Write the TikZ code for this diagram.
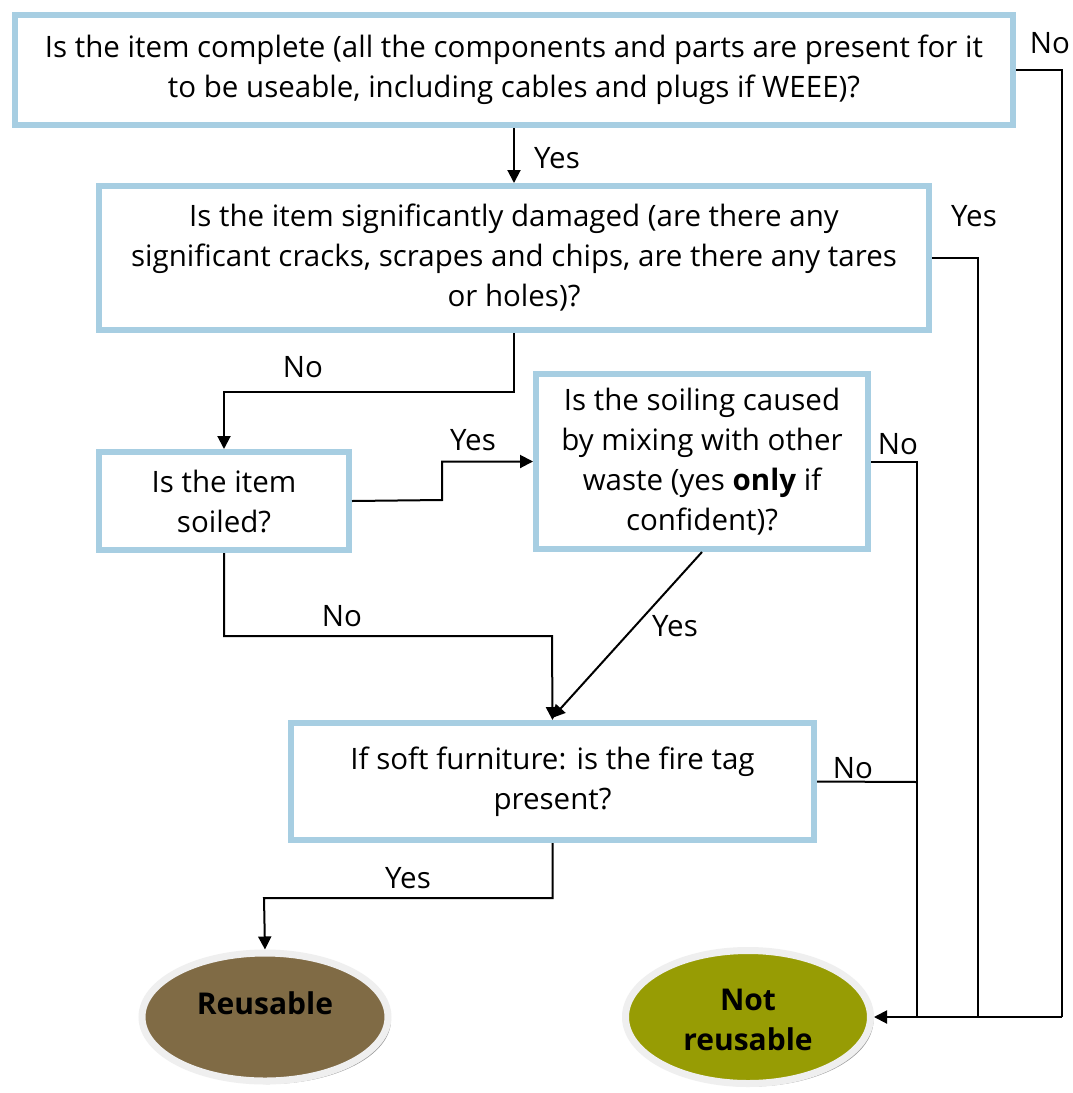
\documentclass[tikz,border=0pt]{standalone}
\usepackage{fontspec}
\setmainfont{Open Sans}
\usetikzlibrary{arrows.meta,shapes.geometric,shadows}
\definecolor{boxblue}{HTML}{A7CEE2}
\definecolor{brownfill}{HTML}{806B45}
\definecolor{olivefill}{HTML}{979C04}
\definecolor{ringcol}{HTML}{EFEFEF}
\begin{document}
\begin{tikzpicture}[x=1pt,y=-1pt,
  box/.style={draw=boxblue, line width=6pt, fill=white, align=center, inner sep=0pt,
     font=\fontsize{29.5}{40}\selectfont},
  endnode/.style={ellipse, draw=ringcol, line width=7pt, align=center, inner sep=0pt,
     font=\fontsize{30}{40}\selectfont\bfseries,
     drop shadow={shadow xshift=3pt, shadow yshift=-3pt, fill=black!40, opacity=1}},
  line/.style={draw=black, line width=2pt},
  arr/.style={line, -{Triangle[length=13pt,width=13pt]}},
  lbl/.style={font=\fontsize{29.5}{32}\selectfont, inner sep=0pt}
]
\useasboundingbox[fill=white] (0,0) rectangle (1072,1093);

\node[box, minimum width=998pt, minimum height=110pt] (b1) at (514,70)
  {Is the item complete (all the components and parts are present for it\\to be useable, including cables and plugs if WEEE)?};
\node[box, minimum width=830pt, minimum height=144pt] (b2) at (514,258)
  {Is the item significantly damaged (are there any\\significant cracks, scrapes and chips, are there any tares\\or holes)?};
\node[box, minimum width=250pt, minimum height=98pt] (b3) at (224,501)
  {Is the item\\soiled?};
\node[box, minimum width=332pt, minimum height=175pt] (b4) at (702,461.5)
  {Is the soiling caused\\by mixing with other\\waste (yes \textbf{only} if\\confident)?};
\node[box, minimum width=523pt, minimum height=117pt] (b5) at (552.5,781.5)
  {If soft furniture: is the fire tag\\present?};

\node[endnode, fill=brownfill, minimum width=246pt, minimum height=128pt] (reu) at (265,1017)
  {\raisebox{28pt}{Reusable}};
\node[endnode, fill=olivefill, minimum width=245pt, minimum height=133pt] (nreu) at (748,1017)
  {\rule{0pt}{28pt}Not\\reusable};

\coordinate (rA) at (1062,1017);
\coordinate (rB) at (978,1017);
\coordinate (rC) at (917,1017);
\coordinate (j5) at (917,782);

% Box1 -> Box2
\draw[arr] (b1.south) -- (b2.north);
% No / Yes branches -> Not reusable
\draw[line] (b1.east) -| (rA);
\draw[line] (b2.east) -| (rB);
\draw[line] (b4.east) -| (rC);
\draw[line] (b5.east) -- (j5);
\draw[arr] (rA) -- (nreu.east);
% Box2 No -> Box3
\draw[arr] (b2.south) -- (514,392) -| (b3.north);
% Box3 Yes -> Box4
\draw[arr] (b3.east) -- (442,500) |- (b4.west);
% Box4 Yes -> Box5
\draw[arr] (b4.south) -- (552,718);
% Box3 No -> Box5
\draw[arr] (b3.south) |- (552,636) -- (b5.north);
% Box5 Yes -> Reusable
\draw[arr] (b5.south) |- (264,898) -- (reu.north);

% labels
\node[lbl] (lY1) at (557,158) {Yes};
\node[lbl] (lN1) at (1050,43) {No};
\node[lbl] (lY2) at (974,216) {Yes};
\node[lbl] (lN2) at (303,367) {No};
\node[lbl] (lY3) at (473,440) {Yes};
\node[lbl] (lN3) at (898,444) {No};
\node[lbl] (lY4) at (675,626) {Yes};
\node[lbl] (lN4) at (342,616) {No};
\node[lbl] (lN5) at (853,768) {No};
\node[lbl] (lY5) at (408,878) {Yes};
\end{tikzpicture}
\end{document}
